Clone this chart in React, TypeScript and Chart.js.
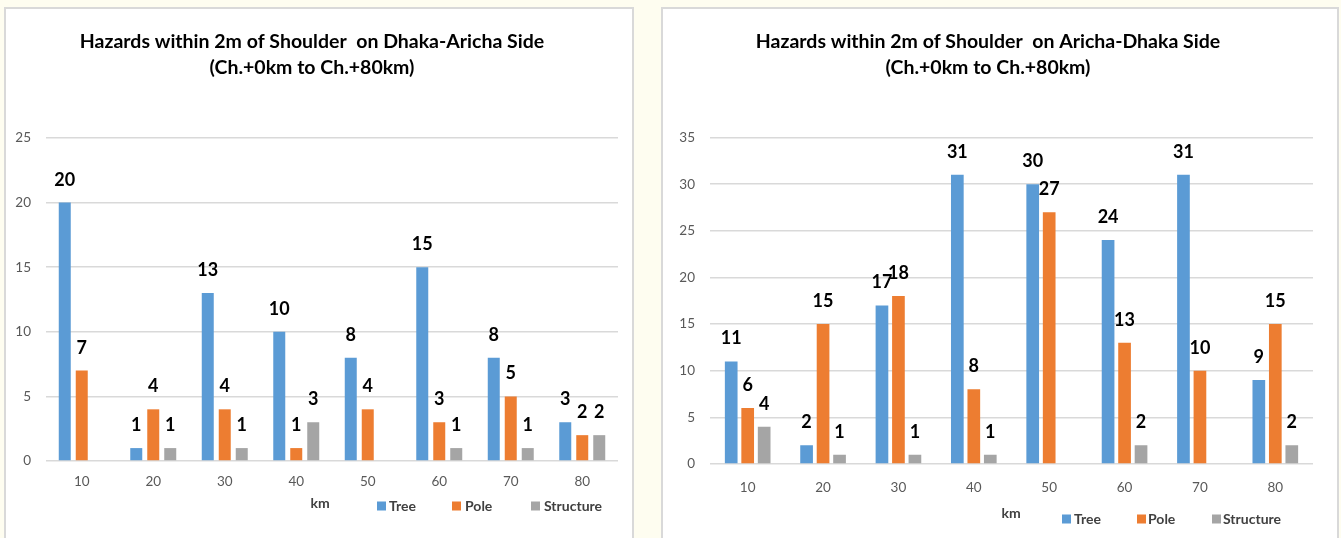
import React, { useEffect, useRef } from "react";
import { Chart, registerables } from "chart.js";

Chart.register(...registerables);

const FONT = "Lato, 'Open Sans', sans-serif";

const categories = ["10", "20", "30", "40", "50", "60", "70", "80"];
const seriesNames = ["Tree", "Pole", "Structure"];
const seriesColors = ["#5B9BD5", "#ED7D31", "#A5A5A5"];

const leftTree = [20, 1, 13, 10, 8, 15, 8, 3];
const leftPole = [7, 4, 4, 1, 4, 3, 5, 2];
const leftStructure = [null, 1, 1, 3, null, 1, 1, 2];

const rightTree = [11, 2, 17, 31, 30, 24, 31, 9];
const rightPole = [6, 15, 18, 8, 27, 13, 10, 15];
const rightStructure = [4, 1, 1, 1, null, 2, null, 2];

const leftTitle = ["Hazards within 2m of Shoulder  on Dhaka-Aricha Side", "(Ch.+0km to Ch.+80km)"];
const rightTitle = ["Hazards within 2m of Shoulder  on Aricha-Dhaka Side", "(Ch.+0km to Ch.+80km)"];
const xAxisTitle = "km";
const leftYMax = 25;
const rightYMax = 35;
const yStep = 5;

type Layout = {
  left: number;
  top: number;
  width: number;
  yAxisWidth: number;
  padRight: number;
  titleTop: number;
  titleBottom: number;
  xAxisHeight: number;
  xTickPad: number;
  padBottom: number;
  catPct: number;
  barPct: number;
  kmX: number;
  kmY: number;
  legendY: number;
  legendBoxX: number[];
  legendTextX: number[];
};

const leftLayout: Layout = {
  left: 4,
  top: 7,
  width: 630,
  yAxisWidth: 40,
  padRight: 14,
  titleTop: 20,
  titleBottom: 57,
  xAxisHeight: 45,
  xTickPad: 5,
  padBottom: 32,
  catPct: 0.713,
  barPct: 0.706,
  kmX: 314,
  kmY: 494,
  legendY: 497,
  legendBoxX: [371, 446, 525],
  legendTextX: [383, 459, 538],
};

const rightLayout: Layout = {
  left: 661,
  top: 7,
  width: 678,
  yAxisWidth: 47,
  padRight: 24,
  titleTop: 20,
  titleBottom: 56.5,
  xAxisHeight: 45,
  xTickPad: 8,
  padBottom: 29,
  catPct: 0.656,
  barPct: 0.77,
  kmX: 348,
  kmY: 504,
  legendY: 510,
  legendBoxX: [399, 474, 549],
  legendTextX: [411, 485, 560],
};

const labelsPlugin = {
  id: "customLabels",
  afterDatasetsDraw(chart: any) {
    const ctx = chart.ctx;
    ctx.save();
    ctx.font = `bold 18px ${FONT}`;
    ctx.fillStyle = "#000000";
    ctx.textAlign = "center";
    ctx.textBaseline = "alphabetic";
    chart.data.datasets.forEach((ds: any, i: number) => {
      const meta = chart.getDatasetMeta(i);
      meta.data.forEach((el: any, j: number) => {
        const v = ds.data[j];
        if (v === null || v === undefined) return;
        ctx.fillText(String(v), el.x, el.y - 17);
      });
    });
    ctx.restore();
  },
  afterDraw(chart: any) {
    const opts = chart.options.plugins.customLabels;
    if (!opts) return;
    const L: Layout = opts.layout;
    const ctx = chart.ctx;
    ctx.save();
    ctx.font = `bold 14px ${FONT}`;
    ctx.fillStyle = "#404040";
    ctx.textBaseline = "middle";
    ctx.textAlign = "center";
    ctx.fillText(xAxisTitle, L.kmX, L.kmY);
    ctx.textAlign = "left";
    chart.data.datasets.forEach((ds: any, i: number) => {
      ctx.fillStyle = ds.backgroundColor;
      ctx.fillRect(L.legendBoxX[i], L.legendY - 4.5, 9, 9);
      ctx.fillStyle = "#404040";
      ctx.fillText(ds.label, L.legendTextX[i], L.legendY);
    });
    ctx.restore();
  },
};

function ChartPanel(props: { title: string[]; series: (number | null)[][]; yMax: number; layout: Layout }) {
  const ref = useRef<HTMLCanvasElement>(null);
  const L = props.layout;
  const canvasW = L.width - 4;
  const canvasH = 538 - L.top - 2;

  useEffect(() => {
    if (!ref.current) return;
    const chart = new Chart(ref.current, {
      type: "bar",
      data: {
        labels: categories,
        datasets: props.series.map((d, i) => ({
          label: seriesNames[i],
          data: d,
          backgroundColor: seriesColors[i],
          borderWidth: 0,
          categoryPercentage: L.catPct,
          barPercentage: L.barPct,
        })),
      },
      options: {
        responsive: false,
        animation: false,
        devicePixelRatio: 1,
        layout: { padding: { left: 0, right: L.padRight, top: 0, bottom: L.padBottom } },
        plugins: {
          legend: { display: false },
          tooltip: { enabled: false },
          title: {
            display: true,
            text: props.title,
            color: "#000000",
            font: { family: FONT, size: 19.5, weight: "bold", lineHeight: 26 / 19.5 },
            padding: { top: L.titleTop, bottom: L.titleBottom },
          },
          customLabels: { layout: L },
        } as any,
        scales: {
          x: {
            grid: { display: false },
            border: { display: false },
            ticks: { color: "#595959", font: { family: FONT, size: 13.5 }, padding: L.xTickPad, maxRotation: 0 },
            afterFit: (s: any) => {
              s.height = L.xAxisHeight;
            },
          },
          y: {
            min: 0,
            max: props.yMax,
            grid: { color: "#D9D9D9", lineWidth: 1.5, drawTicks: false },
            border: { display: false },
            ticks: { stepSize: yStep, color: "#595959", font: { family: FONT, size: 13.5 }, padding: 15 },
            afterFit: (s: any) => {
              s.width = L.yAxisWidth;
            },
          },
        },
      },
      plugins: [labelsPlugin],
    });
    return () => chart.destroy();
  }, []);

  return (
    <div
      style={{
        position: "absolute",
        left: L.left,
        top: L.top,
        width: L.width,
        height: 545 - L.top,
        border: "2px solid #D9D9D9",
        boxSizing: "border-box",
        background: "#FFFFFF",
      }}
    >
      <canvas ref={ref} width={canvasW} height={canvasH} style={{ display: "block", width: canvasW, height: canvasH }} />
    </div>
  );
}

export default function App() {
  return (
    <div
      style={{
        position: "fixed",
        left: 0,
        top: 0,
        width: 1341,
        height: 538,
        overflow: "hidden",
        background: "#FEFDF0",
      }}
    >
      <ChartPanel title={leftTitle} series={[leftTree, leftPole, leftStructure]} yMax={leftYMax} layout={leftLayout} />
      <ChartPanel title={rightTitle} series={[rightTree, rightPole, rightStructure]} yMax={rightYMax} layout={rightLayout} />
    </div>
  );
}
